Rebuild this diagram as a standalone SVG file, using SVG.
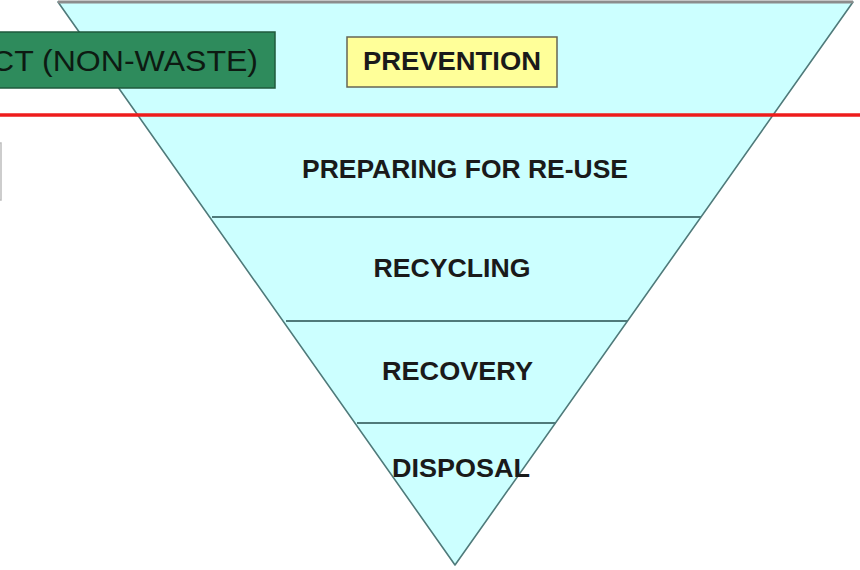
<svg xmlns="http://www.w3.org/2000/svg" width="860" height="570" viewBox="0 0 860 570">
<style>
.lbl{font-family:"Liberation Sans",Arial,sans-serif;font-weight:bold;font-size:26px;fill:#1a1a1a;text-anchor:middle}
.div{stroke:#4f7a7a;stroke-width:2}
</style>
<rect width="860" height="570" fill="#ffffff"/>
<g id="pyramid">
<polygon points="58,2 853,2 455,565" fill="#ccffff" stroke="#4f7a7a" stroke-width="1.6" stroke-linejoin="round"/>
<line x1="58" y1="2" x2="853" y2="2" stroke="#8c8c8c" stroke-width="3"/>
</g>
<g id="connectors">
<line class="div" x1="212" y1="217" x2="701" y2="217"/>
<line class="div" x1="286" y1="321" x2="628" y2="321"/>
<line class="div" x1="357" y1="423" x2="556" y2="423"/>
<line x1="0" y1="115" x2="860" y2="115" stroke="#ee1c1c" stroke-width="3.5"/>
</g>
<g id="offpage-box">
<rect x="-100" y="143" width="101" height="57" fill="#ffffff" stroke="#bdbdbd" stroke-width="1.5"/>
</g>
<g id="product">
<rect x="-20" y="32" width="295" height="56" fill="#2e8b5c" stroke="#1f5a3c" stroke-width="1.5"/>
<text x="-9" y="71" font-family="Liberation Sans, Arial, sans-serif" font-size="30" fill="#0d1a12" textLength="267" lengthAdjust="spacingAndGlyphs">CT (NON-WASTE)</text>
</g>
<g id="prevention">
<rect x="347" y="37" width="210" height="50" fill="#ffff99" stroke="#666655" stroke-width="1.5"/>
<text class="lbl" x="452" y="70" textLength="178" lengthAdjust="spacingAndGlyphs">PREVENTION</text>
</g>
<g id="reuse">
<text class="lbl" x="465" y="178" textLength="326" lengthAdjust="spacingAndGlyphs">PREPARING FOR RE-USE</text>
</g>
<g id="recycling">
<text class="lbl" x="452" y="277" textLength="157" lengthAdjust="spacingAndGlyphs">RECYCLING</text>
</g>
<g id="recovery">
<text class="lbl" x="457.5" y="380" textLength="151" lengthAdjust="spacingAndGlyphs">RECOVERY</text>
</g>
<g id="disposal">
<text class="lbl" x="461" y="477" textLength="138" lengthAdjust="spacingAndGlyphs">DISPOSAL</text>
</g>
</svg>
